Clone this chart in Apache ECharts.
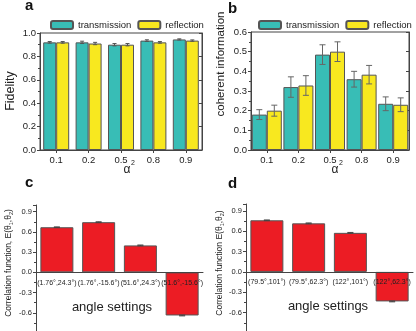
<!DOCTYPE html>
<html>
<head>
<meta charset="utf-8">
<script src="https://cdn.jsdelivr.net/npm/echarts@6/dist/echarts.min.js"></script>
<style>
  html, body { margin: 0; padding: 0; background: #fff; }
  #main { width: 416px; height: 331px; }
</style>
</head>
<body>
<div id="main"></div>
<script>
// panels a, b
const alphaLabels = ['0.1', '0.2', '0.5', '0.8', '0.9'];
const fidTrans = [0.92, 0.92, 0.90, 0.935, 0.945];
const fidTransErr = [0.007, 0.01, 0.01, 0.007, 0.005];
const fidRefl = [0.92, 0.91, 0.90, 0.92, 0.935];
const fidReflErr = [0.007, 0.01, 0.01, 0.007, 0.006];
const cohTrans = [0.18, 0.32, 0.485, 0.36, 0.235];
const cohTransErr = [0.025, 0.052, 0.05, 0.04, 0.035];
const cohRefl = [0.20, 0.328, 0.50, 0.383, 0.23];
const cohReflErr = [0.028, 0.05, 0.05, 0.047, 0.035];

// panels c, d
const cAngles = ['(1.76°,24.3°)', '(1.76°,-15.6°)', '(51.6°,24.3°)', '(51.6°,-15.6°)'];
const cCorr = [0.67, 0.745, 0.40, -0.64];
const cErr = [0.005, 0.006, 0.006, 0.006];
const dAngles = ['(79.5°,101°)', '(79.5°,62.3°)', '(122°,101°)', '(122°,62.3°)'];
const dCorr = [0.76, 0.715, 0.575, -0.435];
const dErr = [0.005, 0.006, 0.006, 0.006];

const TEAL = '#38bdb6';
const YELLOW = '#f8e81f';
const RED = '#ec1c24';
const FONT = 'Liberation Sans, Arial, sans-serif';

// c/d value range; the zero line sits 1.0/1.9 of the way down the grid
const CORR_MIN = -0.9, CORR_MAX = 1.0;

function errData(vals, errs) {
  return vals.map((v, i) => [i, v, errs[i]]);
}

function errBars(offset, cap, color) {
  return function (params, api) {
    const idx = api.value(0), v = api.value(1), e = api.value(2);
    const x = api.coord([idx, v])[0] + offset;
    const hi = api.coord([idx, v + e])[1];
    const lo = api.coord([idx, v - e])[1];
    const st = { stroke: color, lineWidth: 1 };
    return {
      type: 'group',
      children: [
        { type: 'line', shape: { x1: x, y1: hi, x2: x, y2: lo }, style: st },
        { type: 'line', shape: { x1: x - cap, y1: hi, x2: x + cap, y2: hi }, style: st },
        { type: 'line', shape: { x1: x - cap, y1: lo, x2: x + cap, y2: lo }, style: st }
      ]
    };
  };
}

function boxYAxes(gi, max, interval) {
  const fmt = v => v.toFixed(1);
  return [
    {
      gridIndex: gi, type: 'value', min: 0, max: max, interval: interval,
      axisLine: { show: true, lineStyle: { color: '#444' } },
      axisTick: { show: true, length: 3, lineStyle: { color: '#444' } },
      minorTick: { show: true, splitNumber: 2, length: 2, lineStyle: { color: '#444' } },
      splitLine: { show: false },
      axisLabel: { fontSize: 9.5, color: '#222', margin: 4, fontFamily: FONT, formatter: fmt }
    },
    {
      gridIndex: gi, type: 'value', position: 'right', min: 0, max: max, interval: interval,
      axisLine: { show: true, lineStyle: { color: '#444' } },
      axisTick: { show: true, inside: true, length: 3, lineStyle: { color: '#444' } },
      splitLine: { show: false },
      axisLabel: { show: false }
    }
  ];
}

function corrYAxis(gi) {
  return {
    gridIndex: gi, type: 'value', min: CORR_MIN, max: CORR_MAX, interval: 0.3,
    axisLine: { show: true, lineStyle: { color: '#444' } },
    axisTick: { show: true, length: 3, lineStyle: { color: '#444' } },
    minorTick: { show: true, splitNumber: 2, length: 2, lineStyle: { color: '#444' } },
    splitLine: { show: false },
    axisLabel: {
      fontSize: 7.5, color: '#222', margin: 4, fontFamily: FONT,
      formatter: v => (v > 0.95 || v < -0.85) ? '' : (Math.abs(v) < 1e-9 ? '0.0' : v.toFixed(1))
    }
  };
}

// category axis pulled up from the grid bottom to the zero line
function corrXAxis(gi, cats, gridHeight) {
  const shift = gridHeight * (0 - CORR_MIN) / (CORR_MAX - CORR_MIN);
  return {
    gridIndex: gi, type: 'category', data: cats, z: 10, position: 'bottom', offset: -shift,
    axisLine: { show: true, onZero: false, lineStyle: { color: '#444' } },
    axisTick: { show: false },
    axisLabel: { fontSize: 7, color: '#222', margin: 7, interval: 0, fontFamily: FONT }
  };
}

function alphaXAxis(gi) {
  return {
    gridIndex: gi, type: 'category', data: alphaLabels,
    axisLine: { show: true, lineStyle: { color: '#444' } },
    axisTick: { show: true, alignWithLabel: true, length: 3, lineStyle: { color: '#444' } },
    axisLabel: { fontSize: 9.5, color: '#222', margin: 5, fontFamily: FONT }
  };
}

function label(text, x, y, size, opts) {
  return Object.assign({
    type: 'text', x: x, y: y,
    style: { text: text, fontSize: size, fontFamily: FONT, fill: '#222', align: 'center', verticalAlign: 'middle' }
  }, opts || {});
}

function panelLetter(ch, x, y) {
  return {
    type: 'text', x: x, y: y,
    style: { text: ch, fontSize: 15, fontWeight: 'bold', fontFamily: FONT, fill: '#111', align: 'left', verticalAlign: 'bottom' }
  };
}

function corrName(text, x) {
  return {
    type: 'text', x: x, y: 263, rotation: Math.PI / 2,
    style: {
      text: text, fontSize: 8.5, fontFamily: FONT, fill: '#222', align: 'center', verticalAlign: 'middle',
      rich: { s: { fontSize: 5.5, fontFamily: FONT, fill: '#222', padding: [4, 0, 0, 0] } }
    }
  };
}

const barBorder = { borderColor: '#555', borderWidth: 1 };
const legendBase = {
  itemWidth: 22, itemHeight: 8, itemGap: 6, padding: 0, width: 220,
  data: ['transmission', 'reflection'],
  textStyle: { fontSize: 9.5, color: '#222', fontFamily: FONT }
};

const H = 331;
const cGrid = { left: 36, right: 213, top: 205, bottom: -2 };
const dGrid = { left: 246, right: 3, top: 204, bottom: -2 };

const myChart = echarts.init(document.getElementById('main'));
const option = {
  backgroundColor: '#fff',
  animation: false,
  grid: [
    { left: 40, right: 214, top: 33, bottom: 181, show: true, borderColor: '#444', borderWidth: 1, outerBoundsMode: 'none' },
    { left: 251, right: 7, top: 32, bottom: 181, show: true, borderColor: '#444', borderWidth: 1, outerBoundsMode: 'none' },
    Object.assign({ outerBoundsMode: 'none' }, cGrid),
    Object.assign({ outerBoundsMode: 'none' }, dGrid)
  ],
  legend: [
    Object.assign({ left: 50, top: 20 }, legendBase),
    Object.assign({ left: 258, top: 20 }, legendBase)
  ],
  xAxis: [
    alphaXAxis(0), alphaXAxis(1),
    corrXAxis(2, cAngles, H - cGrid.top - cGrid.bottom),
    corrXAxis(3, dAngles, H - dGrid.top - dGrid.bottom)
  ],
  yAxis: [].concat(boxYAxes(0, 1.0, 0.2), boxYAxes(1, 0.6, 0.1), [corrYAxis(2), corrYAxis(3)]),
  series: [
    { name: 'transmission', type: 'bar', xAxisIndex: 0, yAxisIndex: 0, data: fidTrans, barWidth: 13, barGap: '0%',
      itemStyle: Object.assign({ color: TEAL }, barBorder) },
    { name: 'reflection', type: 'bar', xAxisIndex: 0, yAxisIndex: 0, data: fidRefl, barWidth: 13, barGap: '0%',
      itemStyle: Object.assign({ color: YELLOW }, barBorder) },
    { type: 'custom', xAxisIndex: 0, yAxisIndex: 0, data: errData(fidTrans, fidTransErr), renderItem: errBars(-6.5, 2, '#555'), z: 5 },
    { type: 'custom', xAxisIndex: 0, yAxisIndex: 0, data: errData(fidRefl, fidReflErr), renderItem: errBars(6.5, 2, '#555'), z: 5 },

    { name: 'transmission', type: 'bar', xAxisIndex: 1, yAxisIndex: 2, data: cohTrans, barWidth: 15, barGap: '0%',
      itemStyle: Object.assign({ color: TEAL }, barBorder) },
    { name: 'reflection', type: 'bar', xAxisIndex: 1, yAxisIndex: 2, data: cohRefl, barWidth: 15, barGap: '0%',
      itemStyle: Object.assign({ color: YELLOW }, barBorder) },
    { type: 'custom', xAxisIndex: 1, yAxisIndex: 2, data: errData(cohTrans, cohTransErr), renderItem: errBars(-7.5, 3, '#666'), z: 5 },
    { type: 'custom', xAxisIndex: 1, yAxisIndex: 2, data: errData(cohRefl, cohReflErr), renderItem: errBars(7.5, 3, '#666'), z: 5 },

    { type: 'bar', xAxisIndex: 2, yAxisIndex: 4, data: cCorr, barWidth: 33,
      itemStyle: Object.assign({ color: RED }, barBorder) },
    { type: 'custom', xAxisIndex: 2, yAxisIndex: 4, data: errData(cCorr, cErr), renderItem: errBars(0, 3, '#444'), z: 5 },
    { type: 'bar', xAxisIndex: 3, yAxisIndex: 5, data: dCorr, barWidth: 33,
      itemStyle: Object.assign({ color: RED }, barBorder) },
    { type: 'custom', xAxisIndex: 3, yAxisIndex: 5, data: errData(dCorr, dErr), renderItem: errBars(0, 3, '#444'), z: 5 }
  ],
  graphic: [
    panelLetter('a', 25, 13),
    panelLetter('b', 228, 16),
    panelLetter('c', 25, 190),
    panelLetter('d', 228, 191),

    label('Fidelity', 11, 91, 12.5, { rotation: Math.PI / 2 }),
    label('coherent information', 221, 64, 11.5, { rotation: Math.PI / 2 }),
    label('α', 127, 170, 12),
    label('2', 133, 163, 7),
    label('α', 335, 170, 12),
    label('2', 341, 163, 7),

    corrName('Correlation function, E(θ{s|1},θ{s|2})', 9),
    corrName('Correlation function E(θ{s|1},θ{s|2})', 220),
    label('angle settings', 112, 307, 13),
    label('angle settings', 328, 306, 13)
  ]
};
myChart.setOption(option);

window.addEventListener('resize', () => {
  myChart.resize();
});
</script>
</body>
</html>
